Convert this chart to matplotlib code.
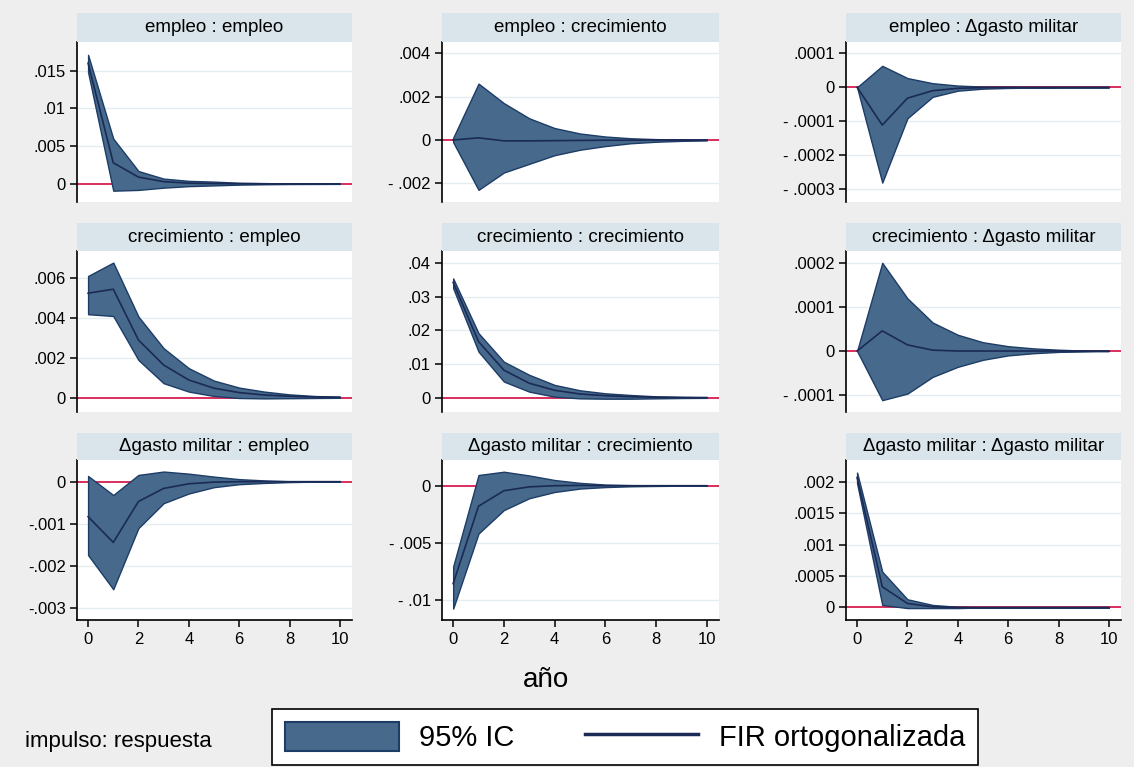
import matplotlib
matplotlib.use('Agg')
import matplotlib.pyplot as plt
from matplotlib.patches import Patch
from matplotlib.lines import Line2D

plt.rcParams['font.family'] = ['Liberation Sans', 'DejaVu Sans']

# horizon (years)
steps = [0, 1, 2, 3, 4, 5, 6, 7, 8, 9, 10]

# impulse : response  ->  IRF, lower CI, upper CI
emp_emp_irf = [.0160, .0028, .0009, .0003, .0001, .00004, .00002, .00001, 0, 0, 0]
emp_emp_lo = [.0148, -.0009, -.0008, -.0005, -.0003, -.0002, -.0001, -.00005, -.00002, -.00001, 0]
emp_emp_hi = [.0171, .0060, .0017, .0007, .0004, .0003, .00015, .0001, .00005, .00002, .00001]

emp_cre_irf = [0, .0001, -.00004, -.00004, -.00003, -.00002, -.00001, -.00001, 0, 0, 0]
emp_cre_lo = [-.0001, -.0023, -.0015, -.0011, -.0007, -.00045, -.00028, -.00015, -.00008, -.00004, -.00002]
emp_cre_hi = [.0001, .0026, .0017, .0010, .00055, .0003, .00016, .00008, .00004, .00002, .00001]

emp_gas_irf = [0, -.000111, -.000032, -.00001, -.000003, -.000001, 0, 0, 0, 0, 0]
emp_gas_lo = [0, -.00028, -.000091, -.000028, -.00001, -.000004, -.000002, -.000001, 0, 0, 0]
emp_gas_hi = [0, .000063, .000027, .000012, .000005, .000002, .000001, 0, 0, 0, 0]

cre_emp_irf = [.00522, .00542, .00288, .00163, .00088, .00047, .00025, .00013, .00007, .00003, .00002]
cre_emp_lo = [.00417, .00408, .00188, .00072, .0003, .00008, -.00002, -.00004, -.00003, -.00002, -.00001]
cre_emp_hi = [.00608, .00675, .00405, .00247, .00147, .00085, .00050, .00030, .00016, .00008, .00004]

cre_cre_irf = [.0343, .0167, .0082, .0043, .0022, .0011, .0006, .0003, .00015, .00008, .00004]
cre_cre_lo = [.0326, .0137, .0048, .0018, .0003, -.0002, -.0003, -.0003, -.0002, -.0001, -.00005]
cre_cre_hi = [.0355, .0192, .0107, .0068, .0038, .0022, .0013, .0008, .0004, .0002, .0001]

cre_gas_irf = [0, .000046, .000014, .000002, 0, 0, 0, 0, 0, 0, 0]
cre_gas_lo = [0, -.000112, -.000097, -.000059, -.000036, -.00002, -.00001, -.000005, -.000002, -.000001, 0]
cre_gas_hi = [0, .000201, .00012, .000065, .000037, .00002, .000011, .000006, .000003, .000001, 0]

gas_emp_irf = [-.00083, -.00144, -.00047, -.00016, -.00005, -.00001, 0, 0, 0, 0, 0]
gas_emp_lo = [-.00174, -.00255, -.0011, -.00051, -.00028, -.00013, -.00006, -.00003, -.00001, 0, 0]
gas_emp_hi = [.000135, -.000316, .00016, .00024, .00019, .00012, .00006, .00003, .00001, 0, 0]

gas_cre_irf = [-.0086, -.0018, -.00044, -.0001, 0, .00003, 0, 0, 0, 0, 0]
gas_cre_lo = [-.0108, -.0042, -.00214, -.0011, -.00055, -.00025, -.00012, -.00005, -.00002, 0, 0]
gas_cre_hi = [-.0071, .00094, .00123, .0009, .0005, .00025, .0001, .00005, .00002, 0, 0]

gas_gas_irf = [.00207, .00033, .000064, .00001, 0, 0, 0, 0, 0, 0, 0]
gas_gas_lo = [.00198, .00004, -.00001, -.00001, -.00001, 0, 0, 0, 0, 0, 0]
gas_gas_hi = [.00215, .00057, .00013, .00004, .00001, 0, 0, 0, 0, 0, 0]

titles = ['empleo : empleo', 'empleo : crecimiento', 'empleo : \u0394gasto militar',
          'crecimiento : empleo', 'crecimiento : crecimiento', 'crecimiento : \u0394gasto militar',
          '\u0394gasto militar : empleo', '\u0394gasto militar : crecimiento',
          '\u0394gasto militar : \u0394gasto militar']

yticks = [[0, .005, .01, .015], [-.002, 0, .002, .004], [-.0003, -.0002, -.0001, 0, .0001],
          [0, .002, .004, .006], [0, .01, .02, .03, .04], [-.0001, 0, .0001, .0002],
          [-.003, -.002, -.001, 0], [-.01, -.005, 0], [0, .0005, .001, .0015, .002]]
ylims = [(-.0024, .0188), (-.00286, .00452), (-.000337, .000133),
         (-.00072, .00733), (-.00426, .04366), (-.000139, .000228),
         (-.00328, .000514), (-.0118, .00226), (-.0002, .00235)]
# gap after the minus sign as rendered in the original
minus_gap = [False, True, True, False, False, True, False, True, False]
xticks = [0, 2, 4, 6, 8, 10]

series = [(emp_emp_irf, emp_emp_lo, emp_emp_hi), (emp_cre_irf, emp_cre_lo, emp_cre_hi),
          (emp_gas_irf, emp_gas_lo, emp_gas_hi), (cre_emp_irf, cre_emp_lo, cre_emp_hi),
          (cre_cre_irf, cre_cre_lo, cre_cre_hi), (cre_gas_irf, cre_gas_lo, cre_gas_hi),
          (gas_emp_irf, gas_emp_lo, gas_emp_hi), (gas_cre_irf, gas_cre_lo, gas_cre_hi),
          (gas_gas_irf, gas_gas_lo, gas_gas_hi)]

bg = '#eeeeee'
strip_col = '#d9e5eb'
band_col = '#46698c'
band_edge = '#1d3c66'
line_col = '#1a2a55'
zero_col = '#d81e4f'
grid_col = '#e4ecf0'


def stata_fmt(v, gap):
    if v == 0:
        return '0'
    s = ('%.4f' % abs(v)).rstrip('0').lstrip('0')
    if v < 0:
        return ('- ' if gap else '-') + s
    return s


W, H = 1134, 767
fig = plt.figure(figsize=(W / 100, H / 100), dpi=100)
fig.patch.set_facecolor(bg)

col_x = [(77, 352), (442, 719), (846, 1121)]
row_y = [(13, 42, 202), (223, 251, 412), (433, 460, 620)]

for i in range(9):
    r, c = divmod(i, 3)
    x0, x1 = col_x[c]
    ys, y0, y1 = row_y[r]
    ax = fig.add_axes([x0 / W, 1 - y1 / H, (x1 - x0) / W, (y1 - y0) / H])
    irf, lo, hi = series[i]
    for t in yticks[i]:
        if t != 0:
            ax.axhline(t, color=grid_col, lw=1, zorder=0)
    ax.axhline(0, color=zero_col, lw=1.3, zorder=1)
    ax.fill_between(steps, lo, hi, facecolor=band_col, edgecolor=band_edge, lw=1, zorder=2)
    ax.plot(steps, irf, color=line_col, lw=1.2, zorder=3)
    ax.set_xlim(-0.44, 10.48)
    ax.set_ylim(*ylims[i])
    ax.set_yticks(yticks[i])
    ax.set_yticklabels([stata_fmt(t, minus_gap[i]) for t in yticks[i]], fontsize=12)
    ax.spines['top'].set_visible(False)
    ax.spines['right'].set_visible(False)
    ax.spines['left'].set_linewidth(1.2)
    ax.tick_params(axis='y', length=5, width=1.1, pad=3)
    if r == 2:
        ax.set_xticks(xticks)
        ax.set_xticklabels([str(t) for t in xticks], fontsize=12)
        ax.tick_params(axis='x', length=5, width=1.1, pad=4)
        ax.spines['bottom'].set_linewidth(1.2)
    else:
        ax.set_xticks([])
        ax.spines['bottom'].set_visible(False)

    # header strip
    sax = fig.add_axes([x0 / W, 1 - y0 / H, (x1 - x0) / W, (y0 - ys) / H])
    sax.set_facecolor(strip_col)
    sax.set_xticks([])
    sax.set_yticks([])
    for sp in sax.spines.values():
        sp.set_visible(False)
    sax.text(0.5, 0.5, titles[i], ha='center', va='center', fontsize=13.5, transform=sax.transAxes)

fig.text(546 / W, 1 - 680 / H, 'año', ha='center', va='center', fontsize=20)
fig.text(25 / W, 1 - 742 / H, 'impulso: respuesta', ha='left', va='center', fontsize=16)

handles = [Patch(facecolor=band_col, edgecolor=band_edge, lw=1.5),
           Line2D([], [], color=line_col, lw=2.5)]
leg = fig.legend(handles, ['95% IC', 'FIR ortogonalizada'], loc='center',
                 bbox_to_anchor=(625 / W, 1 - 737 / H), ncol=2, fontsize=21,
                 frameon=True, fancybox=False, edgecolor='black', framealpha=1,
                 handlelength=3.9, handleheight=1.15, handletextpad=0.7,
                 columnspacing=2.4, borderpad=0.45)
leg.get_frame().set_linewidth(1.2)

fig.savefig('out.png', dpi=100, facecolor=bg)
